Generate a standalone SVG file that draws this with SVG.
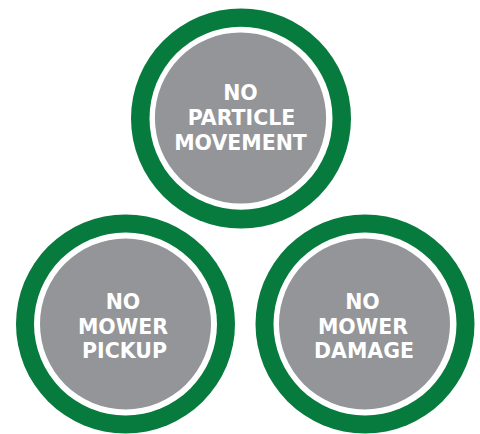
<svg xmlns="http://www.w3.org/2000/svg" width="480" height="434" viewBox="0 0 480 434">
<style>
.ring{fill:#077a3d}
.gap{fill:#ffffff}
.core{fill:#939598}
.lbl{font-family:"DejaVu Sans",sans-serif;font-weight:bold;font-size:20.5px;fill:#ffffff;text-anchor:middle}
</style>
<rect width="480" height="434" fill="#ffffff"/>
<g id="connectors"></g>
<g id="node-particle">
<circle class="ring" cx="241" cy="118.5" r="110"/>
<circle class="gap" cx="241" cy="118.3" r="91.5"/>
<circle class="core" cx="240.5" cy="118" r="85.6"/>
<text class="lbl" x="240.5" y="100">NO</text>
<text class="lbl" x="241.5" y="125">PARTICLE</text>
<text class="lbl" x="240.5" y="150">MOVEMENT</text>
</g>
<g id="node-pickup">
<circle class="ring" cx="125.5" cy="324" r="109.5"/>
<circle class="gap" cx="125.5" cy="324" r="91.5"/>
<circle class="core" cx="125.5" cy="324" r="85.5"/>
<text class="lbl" x="123" y="309">NO</text>
<text class="lbl" x="123" y="334">MOWER</text>
<text class="lbl" x="124.5" y="358">PICKUP</text>
</g>
<g id="node-damage">
<circle class="ring" cx="365" cy="324" r="109.5"/>
<circle class="gap" cx="365" cy="324" r="91.5"/>
<circle class="core" cx="364.5" cy="324" r="85.5"/>
<text class="lbl" x="362.5" y="309">NO</text>
<text class="lbl" x="363" y="334">MOWER</text>
<text class="lbl" x="364" y="358">DAMAGE</text>
</g>
</svg>
